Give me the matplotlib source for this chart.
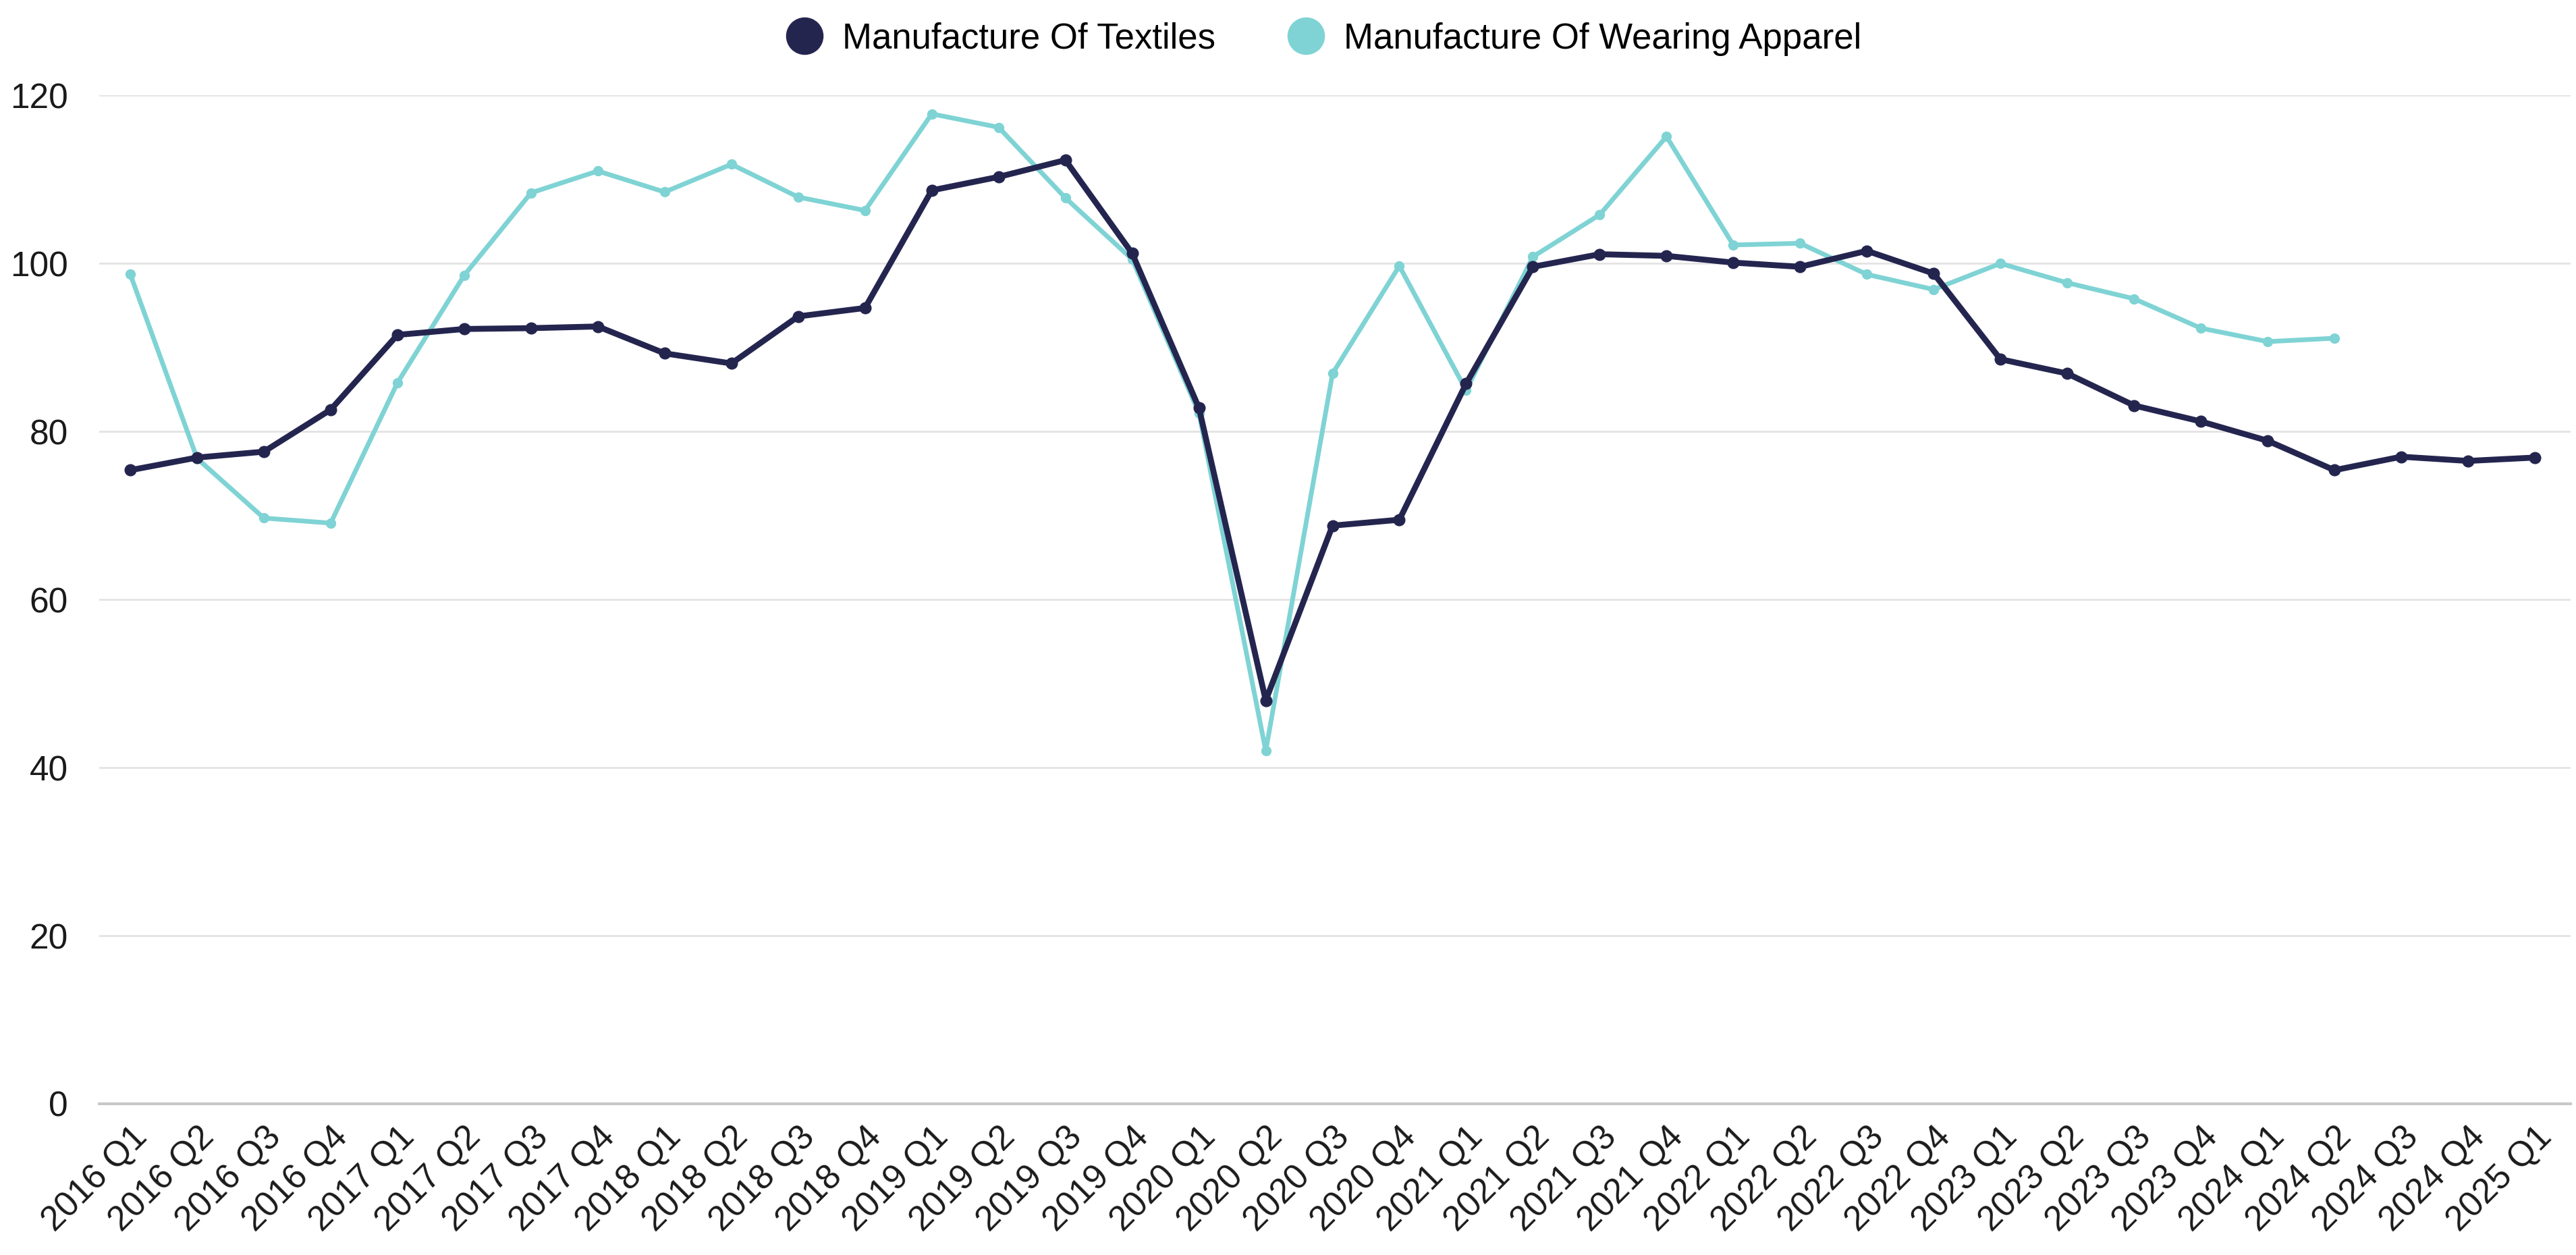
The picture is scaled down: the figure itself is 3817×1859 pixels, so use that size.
import matplotlib
matplotlib.use("Agg")
import matplotlib.pyplot as plt
from matplotlib.lines import Line2D

plt.rcParams['font.family'] = ['Liberation Sans', 'DejaVu Sans']

quarters = [f"{y} Q{q}" for y in range(2016, 2025) for q in range(1, 5)] + ["2025 Q1"]

textiles = [75.4, 76.9, 77.6, 82.6, 91.5, 92.2, 92.3, 92.5, 89.3, 88.1, 93.7, 94.7,
            108.7, 110.3, 112.3, 101.2, 82.8, 48.0, 68.8, 69.5, 85.7, 99.6, 101.1, 100.9,
            100.1, 99.6, 101.5, 98.8, 88.6, 86.9, 83.1, 81.2, 78.9, 75.4, 77.0, 76.5, 76.9]

apparel = [98.7, 76.8, 69.7, 69.1, 85.8, 98.6, 108.4, 111.0, 108.5, 111.8, 107.9, 106.3,
           117.8, 116.2, 107.8, 100.5, 82.2, 42.0, 86.9, 99.7, 84.9, 100.8, 105.8, 115.1,
           102.2, 102.4, 98.7, 96.9, 100.0, 97.7, 95.8, 92.3, 90.7, 91.1]

series_names = ["Manufacture Of Textiles", "Manufacture Of Wearing Apparel"]
colors = ["#24254f", "#7fd3d4"]
yticks = [0, 20, 40, 60, 80, 100, 120]

fig = plt.figure(figsize=(38.17, 18.59), dpi=100)
ax = fig.add_axes([0.0384, 0.1205, 0.9596, 0.8035])

x_t = list(range(len(textiles)))
x_a = list(range(len(apparel)))
ax.plot(x_a, apparel, color=colors[1], lw=5, marker='o', ms=10, zorder=3)
ax.plot(x_t, textiles, color=colors[0], lw=6.3, marker='o', ms=12, zorder=4)

ax.set_ylim(0, 120)
ax.set_xlim(-0.47, len(quarters) - 1 + 0.54)
ax.set_yticks(yticks)
ax.set_yticklabels([str(v) for v in yticks], fontsize=37, color='#1a1a1a')
ax.set_xticks(range(len(quarters)))
ax.set_xticklabels(quarters, fontsize=37, rotation=45, ha='right',
                   rotation_mode='anchor', color='#1a1a1a')
ax.tick_params(axis='both', length=0)
ax.tick_params(axis='y', pad=33)
ax.tick_params(axis='x', pad=18)

ax.grid(axis='y', color='#e3e3e3', lw=2)
ax.set_axisbelow(True)
for s in ['top', 'right', 'left']:
    ax.spines[s].set_visible(False)
ax.spines['bottom'].set_color('#c8c8c8')
ax.spines['bottom'].set_linewidth(3)
ax.spines['bottom'].set_zorder(1)

handles = [Line2D([], [], ls='none', marker='o', ms=39, color=c) for c in colors]
fig.legend(handles, series_names, loc='center', bbox_to_anchor=(0.5136, 0.969),
           ncol=2, frameon=False, fontsize=38, handlelength=1.1,
           handletextpad=0.5, columnspacing=2.0)

fig.savefig("out.png", dpi=100, facecolor='white')
